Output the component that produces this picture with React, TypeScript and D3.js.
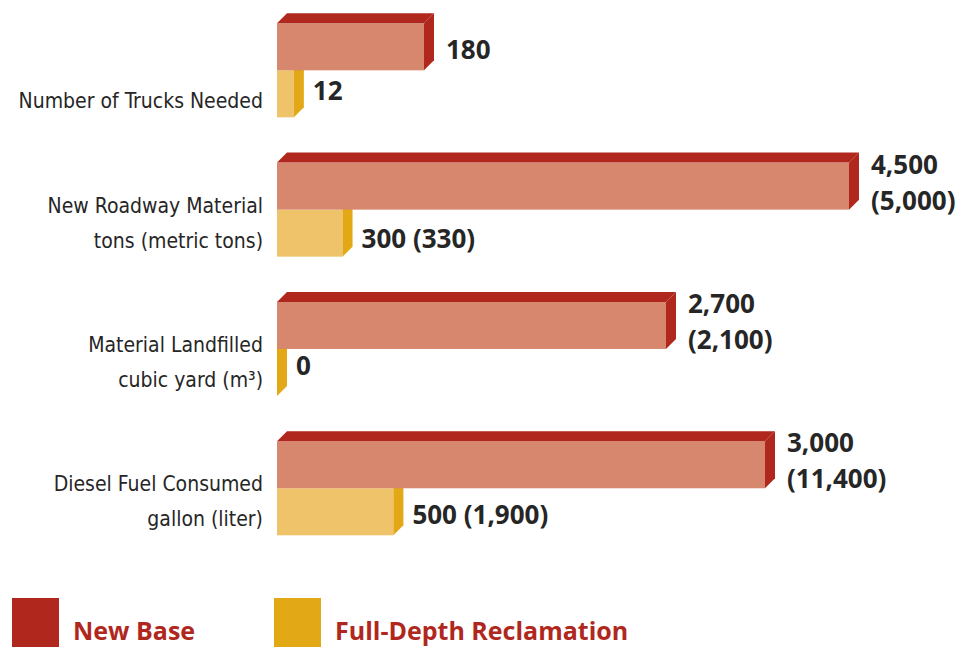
import React from "react";
import * as d3 from "d3";

// ---- data ----
const categories = [
  ["Number of Trucks Needed"],
  ["New Roadway Material", "tons (metric tons)"],
  ["Material Landfilled", "cubic yard (m³)"],
  ["Diesel Fuel Consumed", "gallon (liter)"],
];
const newBase = [180, 4500, 2700, 3000];
const newBaseMetric = [null, 5000, 2100, 11400];
const fullDepth = [12, 300, 0, 500];
const fullDepthMetric = [null, 330, null, 1900];
const seriesNames = ["New Base", "Full-Depth Reclamation"];

// ---- layout ----
const width = 961;
const height = 647;
const x0 = 277;
const depth = 10;
// each row has its own unit, so each row gets its own scale length
const rowSpan = [147, 572, 389, 488];
const fdrLabelDy = [30, 38, 26, 36];

const RED_FACE = "#d6876e";
const RED_DARK = "#b0281d";
const YEL_FACE = "#eec36a";
const YEL_DARK = "#e3a815";
const TEXT = "#262626";

const fmt = d3.format(",");

function Bar3D({ x, y, w, h, face, dark, top = true }) {
  const d = depth;
  return (
    <g>
      <rect x={x} y={y} width={w} height={h} fill={face} />
      {top && (
        <polygon
          points={`${x},${y} ${x + d},${y - d} ${x + w + d},${y - d} ${x + w},${y}`}
          fill={dark}
        />
      )}
      <polygon
        points={`${x + w},${y} ${x + w + d},${y - d} ${x + w + d},${y + h - d} ${x + w},${y + h}`}
        fill={dark}
      />
    </g>
  );
}

export default function App() {
  const rows = d3
    .scaleBand<number>()
    .domain(d3.range(categories.length))
    .range([23.3, 535.3])
    .paddingInner(0.325);

  const inner = d3
    .scaleBand<number>()
    .domain([0, 1])
    .range([0, rows.bandwidth()]);
  const bh = inner.bandwidth();

  return (
    <svg
      width={width}
      height={height}
      style={{ position: "absolute", left: 0, top: 0, background: "#fff" }}
    >
      {categories.map((lines, i) => {
        const gy = rows(i)!;
        const x = d3
          .scalePow()
          .exponent(0.8)
          .domain([0, newBase[i]])
          .range([x0, x0 + rowSpan[i]]);
        const redY = gy + inner(0)!;
        const yelY = gy + inner(1)!;
        const redW = x(newBase[i]) - x0;
        const yelW = x(fullDepth[i]) - x0;

        const redLines =
          newBaseMetric[i] != null
            ? [fmt(newBase[i]), `(${fmt(newBaseMetric[i])})`]
            : [fmt(newBase[i])];
        const redBase = redLines.length > 1 ? redY + 11 : redY + 36;
        const yelText =
          fmt(fullDepth[i]) +
          (fullDepthMetric[i] != null ? ` (${fmt(fullDepthMetric[i])})` : "");

        return (
          <g key={i}>
            <Bar3D x={x0} y={yelY} w={yelW} h={bh} face={YEL_FACE} dark={YEL_DARK} top={false} />
            <Bar3D x={x0} y={redY} w={redW} h={bh} face={RED_FACE} dark={RED_DARK} />

            {lines.map((t, k) => (
              <text
                key={k}
                x={263}
                y={gy + 85 - (lines.length - 1 - k) * 35}
                textAnchor="end"
                fontFamily="'DejaVu Sans Condensed', 'DejaVu Sans', sans-serif"
                fontSize={21}
                fill={TEXT}
              >
                {t}
              </text>
            ))}

            {redLines.map((t, k) => (
              <text
                key={k}
                x={x0 + redW + depth + 12}
                y={redBase + k * 36}
                fontFamily="'Open Sans', sans-serif"
                fontWeight={700}
                fontSize={26}
                fill={TEXT}
              >
                {t}
              </text>
            ))}

            <text
              x={x0 + yelW + depth + 9}
              y={yelY + fdrLabelDy[i]}
              fontFamily="'Open Sans', sans-serif"
              fontWeight={700}
              fontSize={26}
              fill={TEXT}
            >
              {yelText}
            </text>
          </g>
        );
      })}

      {seriesNames.map((name, k) => {
        const lx = k === 0 ? 12 : 274;
        return (
          <g key={name}>
            <rect x={lx} y={598} width={47} height={60} fill={k === 0 ? RED_DARK : YEL_DARK} />
            <text
              x={lx + 61}
              y={640}
              fontFamily="'Open Sans', sans-serif"
              fontWeight={700}
              fontSize={25}
              fill={RED_DARK}
            >
              {name}
            </text>
          </g>
        );
      })}
    </svg>
  );
}
